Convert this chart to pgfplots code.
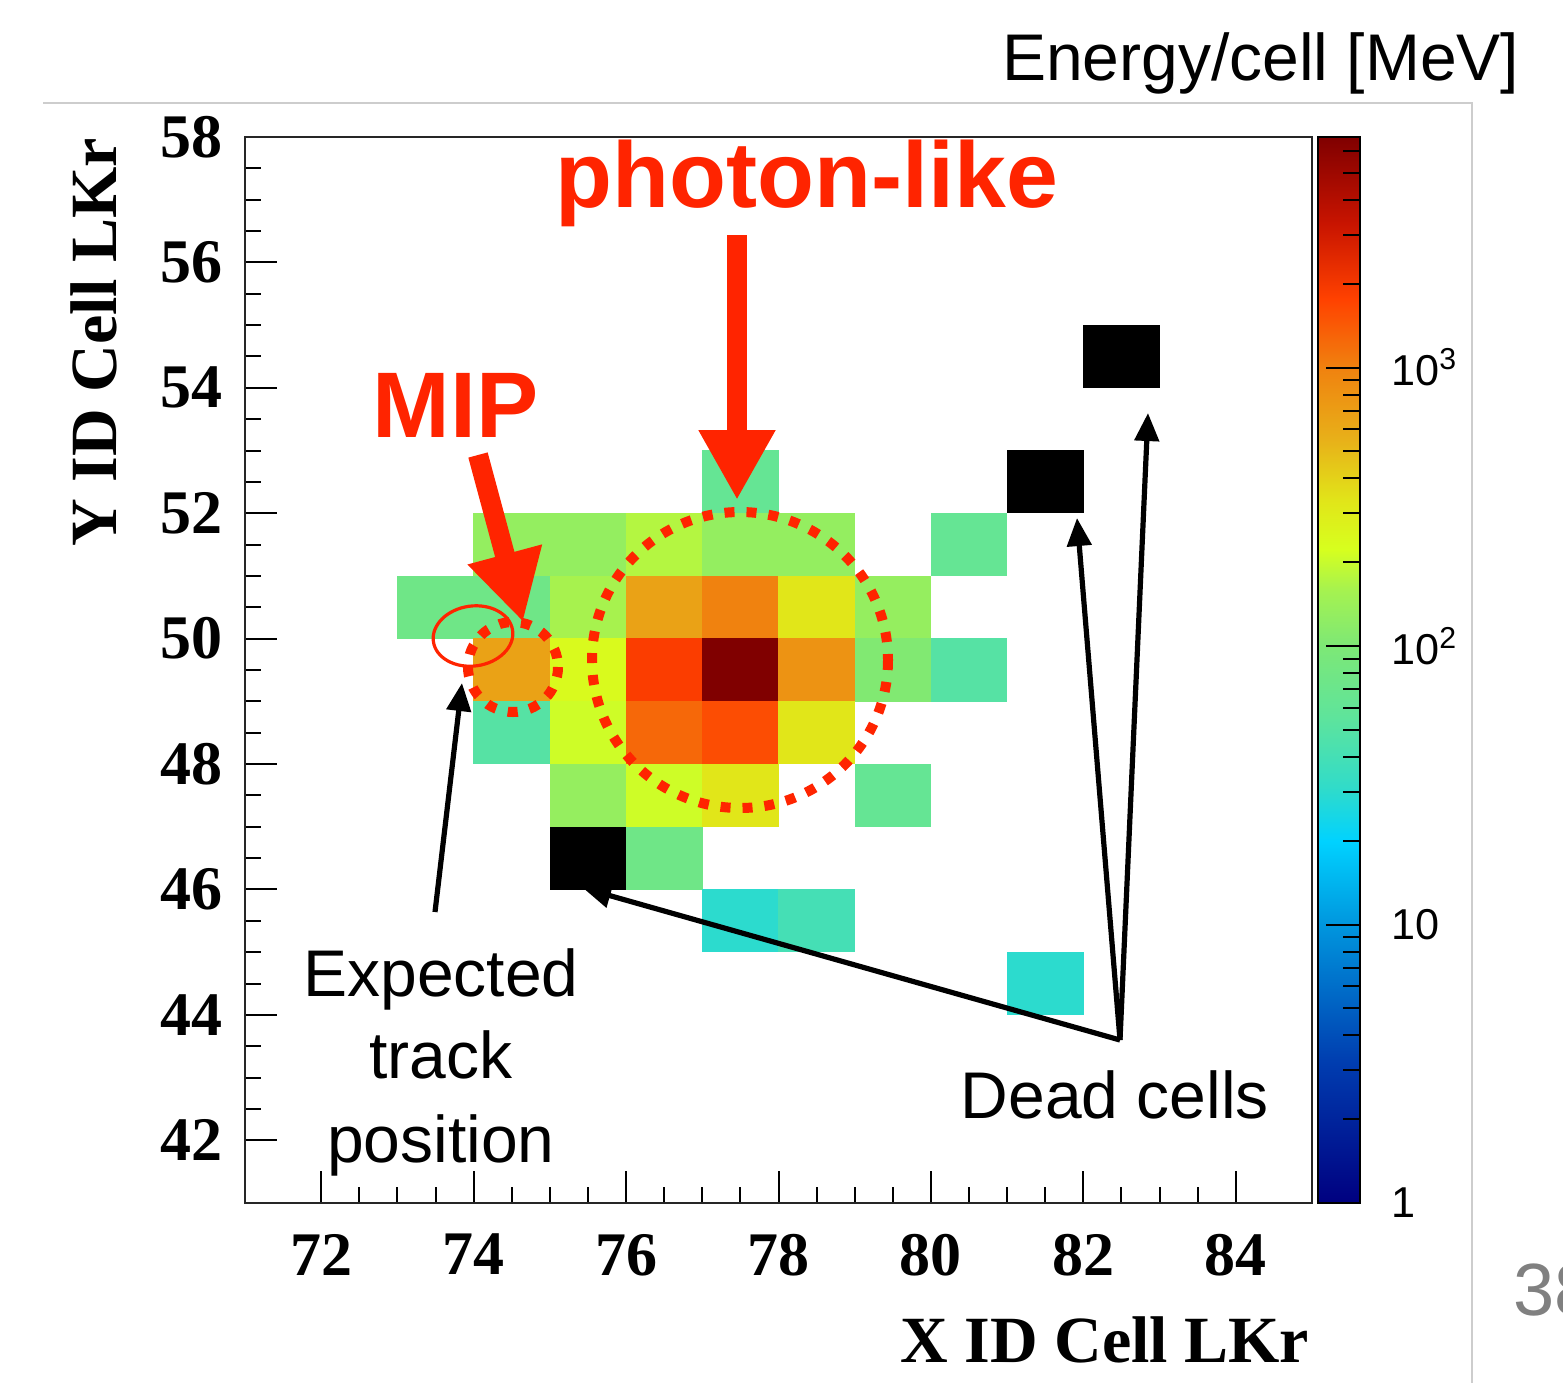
\documentclass[border=0pt]{standalone}
\usepackage{pgfplots}
\pgfplotsset{compat=1.18}
\usepackage{pgfplotstable}
\usepackage{fontspec}
\setmainfont{Liberation Sans}
\newfontfamily\timesfont{Liberation Serif}
\newfontfamily\helv{Liberation Sans}
\usetikzlibrary{arrows.meta}
\definecolor{annored}{RGB}{255,36,0}
\definecolor{framegray}{RGB}{205,205,205}

\pgfdeclareplotmark{cell}{%
  \pgfpathrectangle{\pgfpoint{-9.58pt}{-7.88pt}}{\pgfpoint{19.16pt}{15.76pt}}%
  \pgfusepathqfill}

\pgfplotstableread{
x y E
77.5 52.5 63
74.5 51.5 130
75.5 51.5 130
76.5 51.5 175
77.5 51.5 130
78.5 51.5 130
80.5 51.5 63
73.5 50.5 76
74.5 50.5 76
75.5 50.5 160
76.5 50.5 660
77.5 50.5 1000
78.5 50.5 330
79.5 50.5 132
74.5 49.5 660
75.5 49.5 240
76.5 49.5 1860
77.5 49.5 6700
78.5 49.5 800
79.5 49.5 105
80.5 49.5 50
74.5 48.5 50
75.5 48.5 210
76.5 48.5 1250
77.5 48.5 1600
78.5 48.5 330
75.5 47.5 132
76.5 47.5 210
77.5 47.5 330
79.5 47.5 63
76.5 46.5 76
77.5 45.5 30
78.5 45.5 40
81.5 44.5 30
}\cells

\pgfplotstableread{
x y
75.5 46.5
81.5 52.5
82.5 54.5
}\dead

\begin{document}
\begin{tikzpicture}
\useasboundingbox (0,0) rectangle (390.75pt,-345.75pt);
\begin{axis}[
  at={(61.25pt,-300.75pt)}, anchor=south west,
  scale only axis, width=266.75pt, height=266.5pt,
  xmin=71, xmax=85, ymin=41, ymax=58,
  xtick={72,74,...,84}, ytick={42,44,...,58},
  minor x tick num=3, minor y tick num=3,
  tick pos=left, tick align=inside,
  major tick length=8pt, minor tick length=3.9pt,
  tick style={black, line width=0.5pt},
  axis line style={black!85, line width=0.5pt},
  /pgf/number format/assume math mode=true,
  ticklabel style={font=\timesfont\bfseries\fontsize{15.5}{16}\selectfont},
  xticklabel style={yshift=-4.25pt},
  yticklabel style={xshift=-2pt},
  colormap={root}{rgb255(0pt)=(0,0,128) rgb255(50pt)=(0,60,175) rgb255(100pt)=(0,150,222) rgb255(130pt)=(0,210,255) rgb255(150pt)=(50,220,200) rgb255(175pt)=(95,228,155) rgb255(200pt)=(125,232,118) rgb255(220pt)=(165,242,80) rgb255(235pt)=(215,255,30) rgb255(252pt)=(225,230,25) rgb255(275pt)=(232,175,25) rgb255(300pt)=(240,130,15) rgb255(325pt)=(255,65,0) rgb255(352pt)=(200,20,0) rgb255(383pt)=(128,0,0)},
  point meta min=0, point meta max=3.828,
  colorbar,
  colorbar style={
    at={(parent axis.north east)}, anchor=north west, xshift=-7pt,
    scale only axis, width=10.5pt, height=266.5pt,
    ytick={0,1,2,3},
    yticklabels={1,10,10\textsuperscript{2},10\textsuperscript{3}},
    minor ytick={0.30103,0.47712,0.60206,0.69897,0.77815,0.84510,0.90309,0.95424,
      1.30103,1.47712,1.60206,1.69897,1.77815,1.84510,1.90309,1.95424,
      2.30103,2.47712,2.60206,2.69897,2.77815,2.84510,2.90309,2.95424,
      3.30103,3.47712,3.60206,3.69897,3.77815},
    ytick pos=right, yticklabel pos=right, tick align=inside,
    major tick length=8.5pt, minor tick length=4.25pt,
    tick style={black, line width=0.5pt},
    axis line style={black, line width=0.5pt},
    yticklabel style={font=\helv\fontsize{10.8}{12}\selectfont, xshift=4.25pt},
  },
]
\addplot[scatter, only marks, mark=cell,
  point meta={log10(\thisrow{E})},
  scatter/use mapped color={draw=none, fill=mapped color}]
  table[x=x, y=y] {\cells};
\addplot[only marks, mark=cell, black, mark options={fill=black, draw=none}]
  table[x=x, y=y] {\dead};
\end{axis}

\begin{scope}[x=0.25pt, y=-0.25pt]
  % slide frame
  \draw[framegray, line width=0.5pt] (43,103) -- (1472,103) -- (1472,1383);
  \node[anchor=base east, font=\fontsize{16.5}{18}\selectfont, inner sep=0pt] at (1520,80) {Energy/cell [MeV]};
  % axis titles
  \node[rotate=90, anchor=base east, inner sep=0pt, font=\timesfont\bfseries\fontsize{16.5}{18}\selectfont] at (116,137) {Y ID Cell LKr};
  \node[anchor=base east, inner sep=0pt, font=\timesfont\bfseries\fontsize{16.5}{18}\selectfont] at (1310,1362) {X ID Cell LKr};
  % dotted circles
  \draw[annored, line width=2.5pt, dash pattern=on 2.5pt off 3pt] (740,660) circle (148);
  \draw[annored, line width=2.5pt, dash pattern=on 2.5pt off 3pt] (513,667) circle (45);
  \draw[annored, line width=0.8pt, rotate around={8:(473,636)}] (473,636) ellipse (40 and 30);
  % red arrows and labels
  \draw[annored, line width=5pt, -{Triangle[width=18pt,length=17.5pt]}] (737,235) -- (737,500);
  \draw[annored, line width=5pt, -{Triangle[width=18pt,length=17.5pt]}] (478,455) -- (523,622);
  \node[anchor=base west, inner sep=0pt, annored, font=\bfseries\fontsize{23.3}{28}\selectfont] at (555,207) {photon-like};
  \node[anchor=base west, inner sep=0pt, annored, font=\bfseries\fontsize{23.3}{28}\selectfont] at (372,437) {MIP};
  % black arrows
  \draw[black, line width=1.3pt, -{Triangle[width=6pt,length=7pt]}] (435,912) -- (462,683);
  \draw[black, line width=1.3pt, -{Triangle[width=6pt,length=7pt]}] (1120,1040) -- (583,888);
  \draw[black, line width=1.3pt, -{Triangle[width=6pt,length=7pt]}] (1120,1040) -- (1077,518);
  \draw[black, line width=1.3pt, -{Triangle[width=6pt,length=7pt]}] (1120,1040) -- (1148,413);
  % black labels
  \node[anchor=base, inner sep=0pt, font=\fontsize{16.5}{18}\selectfont] at (441,996) {Expected};
  \node[anchor=base, inner sep=0pt, font=\fontsize{16.5}{18}\selectfont] at (441,1078) {track};
  \node[anchor=base, inner sep=0pt, font=\fontsize{16.5}{18}\selectfont] at (441,1162) {position};
  \node[anchor=base west, inner sep=0pt, font=\fontsize{16.5}{18}\selectfont] at (960,1118) {Dead cells};
  % slide number, cut by the page edge as in the slide crop
  \begin{scope}
    \clip (1480,1200) rectangle (1563,1383);
    \node[anchor=base west, inner sep=0pt, gray, font=\fontsize{18.5}{20}\selectfont] at (1513,1315) {38};
  \end{scope}
\end{scope}
\end{tikzpicture}
\end{document}
